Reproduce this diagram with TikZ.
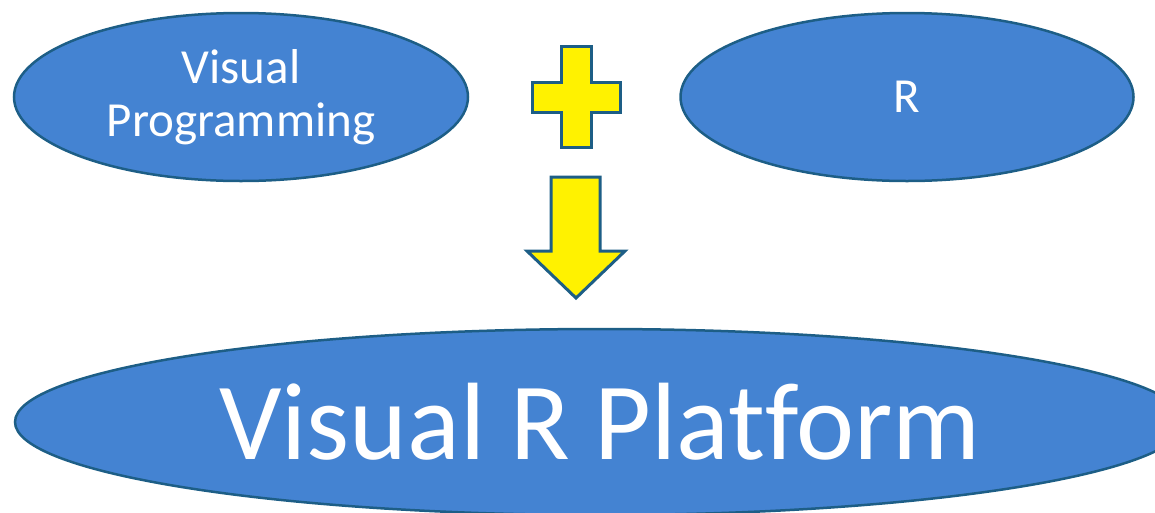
\documentclass[tikz,border=0pt]{standalone}
\usepackage{fontspec}
\setmainfont[Ligatures=NoCommon]{Carlito}
\usetikzlibrary{shapes.geometric}
\definecolor{ovalblue}{HTML}{4483D2}
\definecolor{edgeblue}{HTML}{1D5E86}

\begin{document}
\begin{tikzpicture}[x=1pt, y=-1pt,
  oval/.style={ellipse, draw=edgeblue, line width=2.5pt, fill=ovalblue,
    text=white, inner sep=0pt, align=center},
  block/.style={draw=edgeblue, line width=3pt, fill=yellow}]
  \useasboundingbox (0,0) rectangle (1155,512);

  \node (Visual) at (241,97) [oval, minimum width=454pt,
minimum height=168pt, font=\fontsize{49}{53}\selectfont] {Visual\\Programming};
  \node (R) at (907,97) [oval, minimum width=453pt,
minimum height=168pt, font=\fontsize{49}{53}\selectfont] {R};

  \node (Platform) at (600,422) [oval, minimum width=1170pt,
minimum height=186pt, font=\fontsize{110}{120}\selectfont] {Visual R Platform};

  \draw[block] (561,46) -- (591,46) -- (591,82) -- (620,82) -- (620,112)
    -- (591,112) -- (591,147) -- (561,147) -- (561,112) -- (532,112)
    -- (532,82) -- (561,82) -- cycle;
  \draw[block] (551,177) -- (600,177) -- (600,251) -- (625,251)
    -- (576,298) -- (527,251) -- (551,251) -- cycle;
\end{tikzpicture}
\end{document}
